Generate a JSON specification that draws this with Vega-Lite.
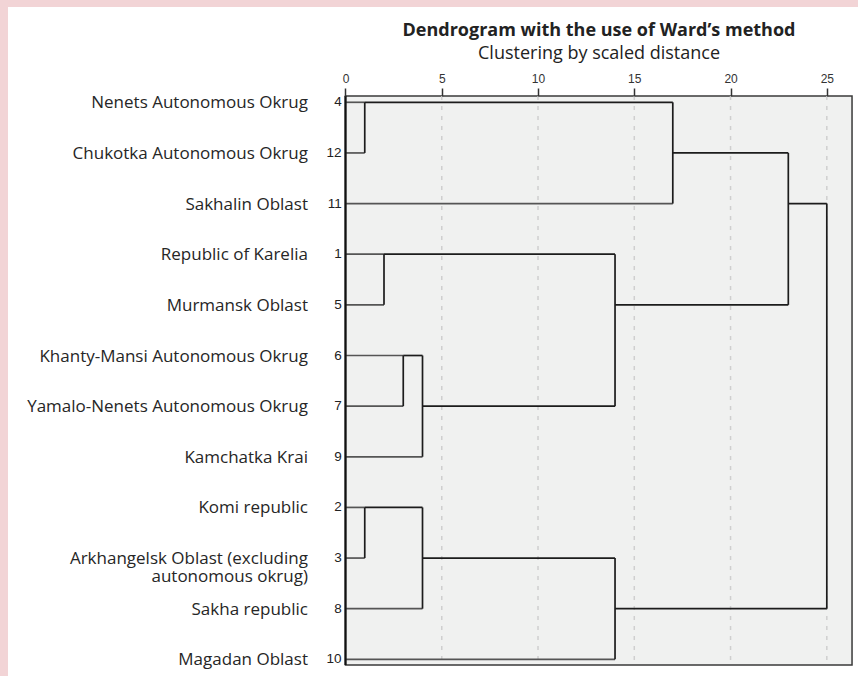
{
  "$schema": "https://vega.github.io/schema/vega-lite/v6.json",
  "width": 850,
  "height": 669,
  "autosize": "none",
  "padding": {"left": 8, "top": 7, "right": 0, "bottom": 0},
  "background": "#f2d4d6",
  "config": {"view": {"fill": "white", "stroke": null}},
  "resolve": {"axis": {"x": "independent", "y": "independent"}},
  "title": {
    "text": "Dendrogram with the use of Ward’s method",
    "subtitle": "Clustering by scaled distance",
    "orient": "top",
    "anchor": "middle",
    "frame": "group",
    "offset": -56,
    "dx": 166,
    "font": "Open Sans",
    "fontSize": 18,
    "fontWeight": "bold",
    "color": "#222222",
    "subtitleFont": "Open Sans",
    "subtitleFontSize": 18,
    "subtitleColor": "#222222",
    "subtitlePadding": 5
  },
  "datasets": {
    "rows": [
      {"r": 0, "id": "4", "name": "Nenets Autonomous Okrug"},
      {"r": 1, "id": "12", "name": "Chukotka Autonomous Okrug"},
      {"r": 2, "id": "11", "name": "Sakhalin Oblast"},
      {"r": 3, "id": "1", "name": "Republic of Karelia"},
      {"r": 4, "id": "5", "name": "Murmansk Oblast"},
      {"r": 5, "id": "6", "name": "Khanty-Mansi Autonomous Okrug"},
      {"r": 6, "id": "7", "name": "Yamalo-Nenets Autonomous Okrug"},
      {"r": 7, "id": "9", "name": "Kamchatka Krai"},
      {"r": 8, "id": "2", "name": "Komi republic"},
      {"r": 9, "id": "3", "name": "Arkhangelsk Oblast (excluding\nautonomous okrug)"},
      {"r": 10, "id": "8", "name": "Sakha republic"},
      {"r": 11, "id": "10", "name": "Magadan Oblast"}
    ],
    "segs": [
      {"x": 0, "x2": 1, "y": 0, "y2": 0, "t": "leaf"},
      {"x": 0, "x2": 1, "y": 1, "y2": 1, "t": "leaf"},
      {"x": 0, "x2": 17, "y": 2, "y2": 2, "t": "leaf"},
      {"x": 0, "x2": 2, "y": 3, "y2": 3, "t": "leaf"},
      {"x": 0, "x2": 2, "y": 4, "y2": 4, "t": "leaf"},
      {"x": 0, "x2": 3, "y": 5, "y2": 5, "t": "leaf"},
      {"x": 0, "x2": 3, "y": 6, "y2": 6, "t": "leaf"},
      {"x": 0, "x2": 4, "y": 7, "y2": 7, "t": "leaf"},
      {"x": 0, "x2": 1, "y": 8, "y2": 8, "t": "leaf"},
      {"x": 0, "x2": 1, "y": 9, "y2": 9, "t": "leaf"},
      {"x": 0, "x2": 4, "y": 10, "y2": 10, "t": "leaf"},
      {"x": 0, "x2": 14, "y": 11, "y2": 11, "t": "leaf"},
      {"x": 1, "x2": 1, "y": 0, "y2": 1, "t": "node"},
      {"x": 1, "x2": 17, "y": 0, "y2": 0, "t": "node"},
      {"x": 17, "x2": 17, "y": 0, "y2": 2, "t": "node"},
      {"x": 17, "x2": 23, "y": 1, "y2": 1, "t": "node"},
      {"x": 2, "x2": 2, "y": 3, "y2": 4, "t": "node"},
      {"x": 2, "x2": 14, "y": 3, "y2": 3, "t": "node"},
      {"x": 3, "x2": 3, "y": 5, "y2": 6, "t": "node"},
      {"x": 3, "x2": 4, "y": 5, "y2": 5, "t": "node"},
      {"x": 4, "x2": 4, "y": 5, "y2": 7, "t": "node"},
      {"x": 4, "x2": 14, "y": 6, "y2": 6, "t": "node"},
      {"x": 14, "x2": 14, "y": 3, "y2": 6, "t": "node"},
      {"x": 14, "x2": 23, "y": 4, "y2": 4, "t": "node"},
      {"x": 23, "x2": 23, "y": 1, "y2": 4, "t": "node"},
      {"x": 23, "x2": 25, "y": 2, "y2": 2, "t": "node"},
      {"x": 1, "x2": 1, "y": 8, "y2": 9, "t": "node"},
      {"x": 1, "x2": 4, "y": 8, "y2": 8, "t": "node"},
      {"x": 4, "x2": 4, "y": 8, "y2": 10, "t": "node"},
      {"x": 4, "x2": 14, "y": 9, "y2": 9, "t": "node"},
      {"x": 14, "x2": 14, "y": 9, "y2": 11, "t": "node"},
      {"x": 14, "x2": 25, "y": 10, "y2": 10, "t": "node"},
      {"x": 25, "x2": 25, "y": 2, "y2": 10, "t": "node"}
    ],
    "grid": [{"v": 5}, {"v": 10}, {"v": 15}, {"v": 20}, {"v": 25}]
  },
  "layer": [
    {
      "data": {"values": [{}]},
      "mark": {"type": "rect", "fill": "#f0f1f0", "stroke": "#3a3a3a", "strokeWidth": 1.5},
      "encoding": {
        "x": {
          "datum": 0,
          "type": "quantitative",
          "scale": {"domain": [-17.53, 26.62], "nice": false, "zero": false},
          "axis": {
            "orient": "top",
            "offset": -89,
            "values": [0, 5, 10, 15, 20, 25],
            "domain": false,
            "grid": false,
            "title": null,
            "ticks": true,
            "tickSize": 8,
            "tickWidth": 1.5,
            "tickColor": "#333333",
            "labelFont": "Liberation Sans",
            "labelFontSize": 12,
            "labelColor": "#333333",
            "labelPadding": 3,
            "labelFlush": false,
            "zindex": 2
          }
        },
        "x2": {"datum": 26.31},
        "y": {
          "datum": -0.124,
          "type": "quantitative",
          "scale": {"domain": [-1.882, 11.329], "reverse": true, "nice": false, "zero": false},
          "axis": null
        },
        "y2": {"datum": 11.11}
      }
    },
    {
      "data": {"name": "grid"},
      "mark": {"type": "rule", "stroke": "#cfcfcf", "strokeWidth": 1.5, "strokeDash": [4, 6]},
      "encoding": {
        "x": {"field": "v", "type": "quantitative", "axis": null},
        "y": {"datum": -0.124, "type": "quantitative", "axis": null},
        "y2": {"datum": 11.11}
      }
    },
    {
      "data": {"name": "segs"},
      "mark": {"type": "rule", "strokeWidth": 1.7},
      "encoding": {
        "x": {"field": "x", "type": "quantitative", "axis": null},
        "x2": {"field": "x2"},
        "y": {"field": "y", "type": "quantitative", "axis": null},
        "y2": {"field": "y2"},
        "color": {
          "field": "t",
          "type": "nominal",
          "scale": {"domain": ["leaf", "node"], "range": ["#555555", "#1c1c1c"]},
          "legend": null
        }
      }
    },
    {
      "data": {"values": [{}]},
      "mark": {"type": "rule", "stroke": "#111111", "strokeWidth": 2.2},
      "encoding": {
        "x": {"datum": 0, "type": "quantitative", "axis": null},
        "y": {"datum": -0.124, "type": "quantitative", "axis": null},
        "y2": {"datum": 11.11}
      }
    },
    {
      "data": {"name": "rows"},
      "mark": {
        "type": "text",
        "align": "right",
        "baseline": "alphabetic",
        "dy": 6,
        "font": "Open Sans",
        "fontSize": 17,
        "lineHeight": 18,
        "lineBreak": "\n",
        "color": "#262626"
      },
      "encoding": {
        "x": {"datum": -1.95, "type": "quantitative", "axis": null},
        "y": {"field": "r", "type": "quantitative", "axis": null},
        "text": {"field": "name"}
      }
    },
    {
      "data": {"name": "rows"},
      "mark": {
        "type": "text",
        "align": "right",
        "baseline": "middle",
        "font": "Liberation Sans",
        "fontSize": 13.5,
        "color": "#222222"
      },
      "encoding": {
        "x": {"datum": -0.2, "type": "quantitative", "axis": null},
        "y": {"field": "r", "type": "quantitative", "axis": null},
        "text": {"field": "id"}
      }
    }
  ]
}
